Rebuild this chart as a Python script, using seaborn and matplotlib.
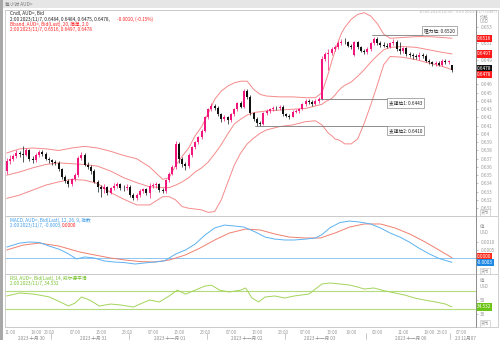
import matplotlib
matplotlib.use("Agg")
import matplotlib.pyplot as plt
import seaborn as sns
from matplotlib.lines import Line2D
from matplotlib.patches import Rectangle
from matplotlib.transforms import offset_copy

sns.set_theme(style="white")
plt.rcParams['font.family'] = ['Noto Sans CJK SC', 'DejaVu Sans']
plt.rcParams['axes.unicode_minus'] = False

# ---- hourly AUD= bid candles, 2023/10/30 10:00 .. 2023/11/07 02:00 ----
opens = [0.6355,0.6367,0.6370,0.6373,0.6377,0.6376,0.6375,0.6380,0.6370,0.6368,
         0.6374,0.6378,0.6376,0.6370,0.6368,0.6366,0.6365,0.6357,0.6348,0.6343,
         0.6339,0.6345,0.6350,0.6371,0.6375,0.6363,0.6360,0.6355,0.6342,0.6336,
         0.6333,0.6336,0.6329,0.6334,0.6337,0.6339,0.6335,0.6334,0.6336,0.6326,
         0.6322,0.6326,0.6331,0.6333,0.6329,0.6337,0.6338,0.6339,0.6332,0.6331,
         0.6344,0.6352,0.6360,0.6388,0.6370,0.6364,0.6361,0.6374,0.6384,0.6390,
         0.6396,0.6404,0.6420,0.6430,0.6434,0.6432,0.6424,0.6418,0.6420,0.6417,
         0.6424,0.6430,0.6437,0.6433,0.6452,0.6445,0.6425,0.6418,0.6413,0.6412,
         0.6425,0.6428,0.6430,0.6432,0.6431,0.6433,0.6424,0.6422,0.6421,0.6427,
         0.6428,0.6430,0.6436,0.6440,0.6439,0.6436,0.6440,0.6443,0.6491,0.6497,
         0.6498,0.6503,0.6505,0.6510,0.6512,0.6511,0.6507,0.6496,0.6511,0.6505,
         0.6501,0.6499,0.6503,0.6510,0.6515,0.6510,0.6508,0.6507,0.6506,0.6510,
         0.6512,0.6503,0.6500,0.6504,0.6497,0.6496,0.6494,0.6493,0.6496,0.6495,
         0.6489,0.6487,0.6485,0.6486,0.6484,0.6489,0.6487,0.6484]
highs = [0.6371,0.6374,0.6376,0.6380,0.6379,0.6386,0.6383,0.6382,0.6373,0.6377,
         0.6381,0.6380,0.6378,0.6372,0.6370,0.6369,0.6367,0.6359,0.6350,0.6346,
         0.6347,0.6353,0.6373,0.6378,0.6377,0.6366,0.6362,0.6357,0.6344,0.6338,
         0.6339,0.6337,0.6336,0.6340,0.6342,0.6341,0.6338,0.6339,0.6338,0.6328,
         0.6328,0.6333,0.6335,0.6334,0.6340,0.6341,0.6342,0.6340,0.6334,0.6346,
         0.6354,0.6362,0.6392,0.6390,0.6372,0.6366,0.6377,0.6386,0.6392,0.6398,
         0.6406,0.6422,0.6432,0.6437,0.6436,0.6434,0.6426,0.6423,0.6422,0.6426,
         0.6432,0.6439,0.6440,0.6455,0.6454,0.6447,0.6427,0.6420,0.6416,0.6427,
         0.6430,0.6432,0.6434,0.6434,0.6435,0.6435,0.6426,0.6424,0.6429,0.6430,
         0.6432,0.6438,0.6442,0.6442,0.6441,0.6442,0.6445,0.6494,0.6499,0.6503,
         0.6505,0.6508,0.6513,0.6515,0.6516,0.6513,0.6509,0.6513,0.6513,0.6507,
         0.6503,0.6505,0.6512,0.6518,0.6517,0.6513,0.6511,0.6510,0.6512,0.6515,
         0.6514,0.6511,0.6506,0.6506,0.6499,0.6498,0.6497,0.6499,0.6498,0.6497,
         0.6491,0.6489,0.6488,0.6488,0.6491,0.6491,0.6490,0.6484]
lows = [0.6352,0.6364,0.6367,0.6371,0.6372,0.6366,0.6373,0.6367,0.6365,0.6366,
        0.6372,0.6373,0.6368,0.6365,0.6363,0.6362,0.6355,0.6346,0.6340,0.6336,
        0.6337,0.6343,0.6348,0.6369,0.6361,0.6358,0.6352,0.6340,0.6330,0.6324,
        0.6328,0.6326,0.6327,0.6332,0.6335,0.6332,0.6331,0.6332,0.6324,0.6320,
        0.6320,0.6324,0.6329,0.6326,0.6323,0.6334,0.6335,0.6330,0.6328,0.6329,
        0.6342,0.6350,0.6358,0.6365,0.6360,0.6356,0.6359,0.6372,0.6382,0.6388,
        0.6394,0.6402,0.6418,0.6428,0.6429,0.6422,0.6415,0.6416,0.6412,0.6415,
        0.6422,0.6428,0.6431,0.6431,0.6443,0.6423,0.6416,0.6410,0.6410,0.6411,
        0.6423,0.6426,0.6428,0.6429,0.6429,0.6422,0.6420,0.6418,0.6420,0.6425,
        0.6426,0.6429,0.6434,0.6436,0.6434,0.6435,0.6438,0.6441,0.6489,0.6478,
        0.6496,0.6500,0.6503,0.6508,0.6509,0.6505,0.6503,0.6494,0.6503,0.6499,
        0.6497,0.6497,0.6501,0.6508,0.6508,0.6506,0.6505,0.6504,0.6504,0.6508,
        0.6501,0.6497,0.6498,0.6495,0.6493,0.6491,0.6491,0.6490,0.6492,0.6487,
        0.6485,0.6482,0.6483,0.6482,0.6483,0.6485,0.6485,0.6475]
closes = [0.6367,0.6370,0.6373,0.6377,0.6376,0.6375,0.6380,0.6370,0.6368,0.6374,
          0.6378,0.6376,0.6370,0.6368,0.6366,0.6365,0.6357,0.6348,0.6343,0.6339,
          0.6345,0.6350,0.6371,0.6375,0.6363,0.6360,0.6355,0.6342,0.6336,0.6333,
          0.6336,0.6329,0.6334,0.6337,0.6339,0.6335,0.6334,0.6336,0.6326,0.6322,
          0.6326,0.6331,0.6333,0.6329,0.6337,0.6338,0.6339,0.6332,0.6331,0.6344,
          0.6352,0.6360,0.6388,0.6370,0.6364,0.6361,0.6374,0.6384,0.6390,0.6396,
          0.6404,0.6420,0.6430,0.6434,0.6432,0.6424,0.6418,0.6420,0.6417,0.6424,
          0.6430,0.6437,0.6433,0.6452,0.6445,0.6425,0.6418,0.6413,0.6412,0.6425,
          0.6428,0.6430,0.6432,0.6431,0.6433,0.6424,0.6422,0.6421,0.6427,0.6428,
          0.6430,0.6436,0.6440,0.6439,0.6436,0.6440,0.6443,0.6491,0.6497,0.6498,
          0.6503,0.6505,0.6510,0.6512,0.6511,0.6507,0.6506,0.6511,0.6505,0.6501,
          0.6499,0.6503,0.6510,0.6515,0.6510,0.6508,0.6507,0.6506,0.6510,0.6512,
          0.6503,0.6500,0.6504,0.6497,0.6496,0.6494,0.6493,0.6496,0.6495,0.6489,
          0.6487,0.6485,0.6486,0.6484,0.6489,0.6487,0.6488,0.6478]

# ---- Bollinger bands (20, 2.0), sampled along the bar index ----
bb_bar = [0,4,8,12,16,20,24,28,32,36,40,44,48,50,52,54,56,58,60,62,
          64,66,68,70,72,74,76,78,80,84,88,92,95,97,98,99,100,101,102,103,
          104,106,108,110,112,114,116,118,122,126,130,134,137]
bb_upper = [0.6377,0.6382,0.6383,0.6382,0.6380,0.6383,0.6385,0.6383,0.6379,0.6374,
            0.6370,0.6360,0.6345,0.6347,0.6362,0.6373,0.6383,0.6398,0.6409,0.6425,
            0.6442,0.6452,0.6458,0.6462,0.6464,0.6464,0.6454,0.6448,0.6446,0.6445,
            0.6445,0.6444,0.6444,0.6450,0.6462,0.6474,0.6488,0.6500,0.6512,0.6522,
            0.6529,0.6539,0.6545,0.6547,0.6543,0.6534,0.6521,0.6516,0.6517,0.6518,
            0.6518,0.6517,0.6516]
bb_mid = [0.6350,0.6354,0.6359,0.6363,0.6365,0.6364,0.6363,0.6361,0.6355,0.6347,
          0.6341,0.6336,0.6335,0.6335,0.6338,0.6342,0.6347,0.6354,0.6359,0.6366,
          0.6376,0.6387,0.6400,0.6412,0.6418,0.6423,0.6426,0.6427,0.6428,0.6429,
          0.6430,0.6431,0.6434,0.6436,0.6439,0.6441,0.6443,0.6447,0.6452,0.6456,
          0.6459,0.6463,0.6470,0.6478,0.6487,0.6495,0.6502,0.6505,0.6506,0.6505,
          0.6502,0.6499,0.6497]
bb_lower = [0.6322,0.6326,0.6332,0.6338,0.6342,0.6345,0.6344,0.6340,0.6329,0.6321,
            0.6314,0.6314,0.6324,0.6324,0.6320,0.6312,0.6310,0.6309,0.6308,0.6305,
            0.6306,0.6320,0.6341,0.6362,0.6377,0.6388,0.6395,0.6401,0.6405,0.6409,
            0.6411,0.6415,0.6416,0.6411,0.6406,0.6401,0.6398,0.6394,0.6393,0.6391,
            0.6388,0.6388,0.6394,0.6413,0.6435,0.6459,0.6484,0.6494,0.6493,0.6490,
            0.6486,0.6482,0.6478]

# ---- MACD (12, 26, 9) ----
macd_bar = [0,4,7,10,13,16,18.5,21.5,24,27,30,33,36,39.5,42.5,45.5,48.5,52,55,58,
            61,64,67,70,73,76.5,79.5,82.5,85.5,88.5,92,95,97,99.5,102.5,105.5,108.5,112,115,118,
            121,124,127,130,133,137]
macd_vals = [0.00069,0.00095,0.00102,0.00099,0.00076,0.00056,0.00031,-0.00008,0.00005,-0.00002,
             -0.00021,-0.00028,-0.00031,-0.00041,-0.00034,-0.00028,-0.00021,0.00024,0.00050,0.00089,
             0.00147,0.00193,0.00212,0.00206,0.00199,0.00167,0.00134,0.00121,0.00115,0.00115,
             0.00121,0.00128,0.00150,0.00195,0.00228,0.00238,0.00232,0.00219,0.00193,0.00160,
             0.00134,0.00100,0.00060,0.00025,-0.00005,-0.00030]
signal_bar = [0,5,10,16,22.5,27,32,36.5,41,45.5,50,55,59.5,64,68.5,73.5,78,82.5,87,92,
              96.5,101,105.5,110,115,119.5,124,128.5,133,137]
signal_vals = [0.00050,0.00082,0.00095,0.00076,0.00037,0.00018,-0.00002,-0.00015,-0.00025,-0.00028,
               -0.00015,0.00018,0.00063,0.00115,0.00160,0.00186,0.00180,0.00154,0.00134,0.00128,
               0.00128,0.00160,0.00199,0.00219,0.00219,0.00193,0.00154,0.00105,0.00050,0.00000]

# ---- RSI (14, Wilder) ----
rsi_bar = [0,4,8.5,13,16.5,19,21,23,25.5,28.5,32,35,39,41,44,47,50,52.5,55,58,
           61,63,65.5,68.5,72,73.5,75.5,77.5,79.5,82.5,85.5,88.5,93,97,99.5,102.5,105.5,108,110,113,
           116.5,119.5,122.5,125.5,128.5,132,135,137]
rsi_vals = [58.9,65.6,63.0,57.0,45.6,36.7,43.0,56.7,50.0,36.7,41.0,39.0,34.4,41.0,50.0,45.6,59.0,72.0,63.0,72.0,
            81.0,83.0,72.0,67.8,72.0,76.7,54.4,45.6,56.7,59.0,54.4,59.0,63.3,85.6,87.8,85.6,83.3,78.9,74.4,76.7,
            70.0,65.6,61.0,54.4,50.0,45.6,41.0,34.532]

# ---- levels drawn on the price pane ----
resistance = 0.6520
support1 = 0.6443
support2 = 0.6410

# ---- time axis ----
hour_ticks = [1,9,13,21,29,37,45,53,61,69,77,85,92,100,106,114,122,130,134,140]
hour_labels = ["11:00","19:00","23:00","07:00","15:00","23:00","07:00","15:00","23:00","07:00",
               "15:00","23:00","07:00","15:00","19:00","03:00","11:00","19:00","23:00","07:00"]
day_centers = [7.5,26.5,50.3,74,96.4,124.4,141.3]
day_labels = ["2023 十月 30","2023 十月 31","2023 十一月 01","2023 十一月 02",
              "2023 十一月 03","2023 十一月 06","23 11月07"]
day_breaks = [13.5,37.5,61.5,85.5,110.5,136.4]

W, H = 500, 340
fig = plt.figure(figsize=(W / 100, H / 100), dpi=100)
fig.patch.set_facecolor("white")


def frect(x0, y0, x1, y1):
    return [x0 / W, 1 - y1 / H, (x1 - x0) / W, (y1 - y0) / H]


def fline(xs, ys, color, lw=0.6):
    fig.add_artist(Line2D([x / W for x in xs], [1 - y / H for y in ys],
                          color=color, lw=lw, transform=fig.transFigure))


def ftext(x, y, s, color, size=3.4, ha="left", **kw):
    fig.text(x / W, 1 - y / H, s, color=color, fontsize=size, ha=ha, va="center", **kw)


XMIN, XMAX = -0.52, 144.4
UP, DOWN = "#f2167c", "#111111"
BAND = "#f58a8a"
GRID = "#c9c9c9"
AXLINE = "#8c8c8c"
LABEL = "#9a9a9a"

ax = fig.add_axes(frect(5, 10, 476, 216))
ax_m = fig.add_axes(frect(5, 216, 476, 274))
ax_r = fig.add_axes(frect(5, 274, 476, 327))

for a in (ax, ax_m, ax_r):
    a.set_xlim(XMIN, XMAX)
    a.set_facecolor("white")
    a.set_xticks([])
    for side in ("top", "bottom", "left"):
        a.spines[side].set_color(GRID)
        a.spines[side].set_linewidth(0.6)
    a.spines["right"].set_color(AXLINE)
    a.spines["right"].set_linewidth(0.6)
    a.yaxis.tick_right()
    a.tick_params(axis="y", direction="out", length=1.6, width=0.4, colors=LABEL,
                  labelsize=3.4, pad=1.5)

# ---- price pane ----
ax.set_ylim(0.63006, 0.65503)
bars = list(range(len(closes)))
col = [UP if c >= o else DOWN for o, c in zip(opens, closes)]
ax.vlines(bars, lows, highs, colors=col, lw=0.5, zorder=3)
body_lo = [min(o, c) for o, c in zip(opens, closes)]
body_h = [max(abs(c - o), 0.00004) for o, c in zip(opens, closes)]
ax.bar(bars, body_h, bottom=body_lo, width=0.62, color=col, lw=0, zorder=4)

for vals in (bb_upper, bb_mid, bb_lower):
    sns.lineplot(x=bb_bar, y=vals, ax=ax, color=BAND, linewidth=0.7, legend=False,
                 sort=False, zorder=2)

# price scale; the ticks hidden behind the value tags carry no label
price_ticks = [0.631 + 0.001 * k for k in range(23)]
tagged = {"0.647", "0.648", "0.65", "0.652"}
ax.set_yticks(price_ticks)
lbls = []
for v in price_ticks:
    s = f"{v:.3f}".rstrip("0")
    lbls.append("" if s in tagged else s)
ax.set_yticklabels(lbls)
ax.set_ylabel("")
ax.set_xlabel("")

# support / resistance markers
LVL = "#7a7a7a"
box = dict(boxstyle="square,pad=0.45", fc="white", ec="#8a8a8a", lw=0.5)
ax.plot([112.4, 128.1], [resistance, resistance], color=LVL, lw=0.6, zorder=5)
ax.text(128.4, resistance, "阻力位: 0.6520", fontsize=3.4, color="#222", ha="left",
        va="bottom", bbox=box, zorder=6,
        transform=offset_copy(ax.transData, fig=fig, y=1.4, units="points"))
ax.plot([96.4, 117.3], [support1, support1], color=LVL, lw=0.6, zorder=5)
ax.text(117.6, support1, "支撑位1: 0.6443", fontsize=3.4, color="#222", ha="left",
        va="top", bbox=box, zorder=6,
        transform=offset_copy(ax.transData, fig=fig, y=-1.4, units="points"))
ax.plot([76.4, 117.3], [support2, support2], color=LVL, lw=0.6, zorder=5)
ax.text(117.6, support2, "支撑位2: 0.6410", fontsize=3.4, color="#222", ha="left",
        va="top", bbox=box, zorder=6,
        transform=offset_copy(ax.transData, fig=fig, y=-1.4, units="points"))


def value_tag(a, value, text, fc, dy=0.0, tc="white"):
    tr = offset_copy(a.get_yaxis_transform(), fig=fig, x=0, y=dy, units="points")
    a.text(1.002, value, text, transform=tr, ha="left", va="center", fontsize=3.4,
           color=tc, clip_on=False, zorder=20,
           bbox=dict(boxstyle="square,pad=0.22", fc=fc, ec="none"))


value_tag(ax, bb_upper[-1], f"{bb_upper[-1]:.4f}", "#ff1a1a")
value_tag(ax, bb_mid[-1], f"{bb_mid[-1]:.4f}", "#ff1a1a")
value_tag(ax, closes[-1], f"{closes[-1]:.4f}", "#111111", dy=0.6)
value_tag(ax, bb_lower[-1], f"{bb_lower[-1]:.4f}", "#ff1a1a", dy=-3.6)

# ---- MACD pane ----
ax_m.set_ylim(-0.001058, 0.002708)
ax_m.axhline(0, color="#7dbcf0", lw=0.6, zorder=1)
sns.lineplot(x=signal_bar, y=signal_vals, ax=ax_m, color="#f0806e", linewidth=0.7,
             legend=False, sort=False)
sns.lineplot(x=macd_bar, y=macd_vals, ax=ax_m, color="#5cb2f2", linewidth=0.7,
             legend=False, sort=False)
ax_m.set_yticks([0.0005, 0.0010])
ax_m.set_yticklabels(["0.0005", "0.0010"])
ax_m.set_ylabel("")
value_tag(ax_m, signal_vals[-1], f"{signal_vals[-1]:.4f}", "#ff2a1a", dy=0.6)
value_tag(ax_m, macd_vals[-1], f"{macd_vals[-1]:.4f}", "#1e88e5", dy=-0.4)

# ---- RSI pane ----
ax_r.set_ylim(-10, 107.8)
ax_r.axhline(70, color="#b4dc7c", lw=0.8, zorder=1)
ax_r.axhline(30, color="#b4dc7c", lw=0.8, zorder=1)
sns.lineplot(x=rsi_bar, y=rsi_vals, ax=ax_r, color="#a3d45a", linewidth=0.7,
             legend=False, sort=False)
ax_r.set_yticks([50, 20])
ax_r.set_yticklabels(["50", "30"])
ax_r.set_ylabel("")
value_tag(ax_r, rsi_vals[-1], f"{rsi_vals[-1]:.3f}", "#6cc417")

# ---- time axis ----
xt = ax_r.get_xaxis_transform()
for b, s in zip(hour_ticks, hour_labels):
    ax_r.text(b, -0.06, s, transform=xt, fontsize=3.2, color=LABEL, ha="center",
              va="top", clip_on=False)
for b, s in zip(day_centers, day_labels):
    ax_r.text(b, -0.17, s, transform=xt, fontsize=3.3, color="#8a8a8a", ha="center",
              va="top", clip_on=False)
for b in day_breaks:
    ax_r.plot([b, b], [-0.11, -0.23], transform=xt, color="#b0b0b0", lw=0.5,
              clip_on=False)

# ---- chrome: title strip, frames, axis captions ----
fig.add_artist(Rectangle((0, 1 - 8 / H), 1, 8 / H, transform=fig.transFigure,
                         fc="#e6e6e6", ec="none", zorder=0))
fig.add_artist(Rectangle((0, 0), 2.5 / W, 1, transform=fig.transFigure,
                         fc="#a8a8a8", ec="none", zorder=0))
ftext(5, 4, "每小时 AUD=", "#777777", size=3.4)
ftext(497, 11.6, "10:00 2023/10/30 - 9:00 2023/11/7 (GMT)", "#b8b8b8", size=3.0, ha="right")
for yy in (10, 216, 274, 327):
    fline([5, 498], [yy, yy], GRID)
fline([498, 498], [10, 327], GRID)
fline([476, 476], [10, 327], AXLINE)

ftext(480, 16.6, "价格", LABEL, size=3.2)
ftext(480, 21.3, "USD", LABEL, size=3.2)
ftext(480, 227, "值", LABEL, size=3.2)
ftext(480, 232, "USD", LABEL, size=3.2)
ftext(480, 281, "值", LABEL, size=3.2)
ftext(480, 286, "USD", LABEL, size=3.2)
cbox = dict(boxstyle="square,pad=0.2", fc="white", ec="#bdbdbd", lw=0.4)
for yy in (212.5, 271, 323.5):
    ftext(481, yy, "货币", LABEL, size=3.0, bbox=cbox)

# ---- pane legends ----
ftext(10, 13.5, "Cndl, AUD=, Bid", "#222222")
ftext(10, 19, "2:00 2023/11/7, 0.6484, 0.6484, 0.6475, 0.6478,", "#222222")
ftext(117, 19, "-0.0010, (-0.15%)", "#ff2020")
ftext(10, 24.5, "Bband, AUD=, Bid(Last), 20, 简单, 2.0", "#ff2020")
ftext(10, 30, "2:00 2023/11/7, 0.6516, 0.6497, 0.6478", "#ff2020")
ftext(10, 220, "MACD, AUD=, Bid(Last), 12, 26, 9, 指数", "#3d9be9")
ftext(10, 225.5, "2:00 2023/11/7, -0.0003,", "#3d9be9")
ftext(62, 225.5, "0.0000", "#ff2020")
ftext(10, 278, "RSI, AUD=, Bid(Last), 14, 威尔德平滑", "#77c12e")
ftext(10, 283.5, "2:00 2023/11/7, 34.532", "#77c12e")

fig.savefig("out.png", dpi=100)
